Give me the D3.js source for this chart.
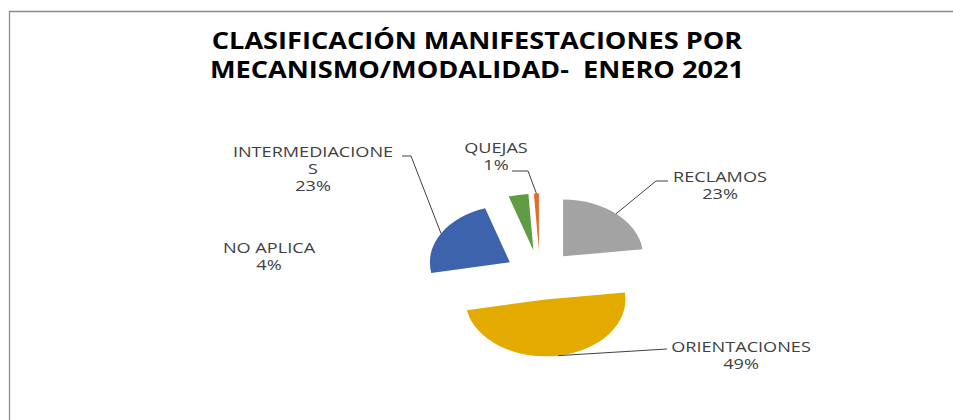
<!DOCTYPE html>
<html>
<head>
<meta charset="utf-8">
<script src="https://cdn.jsdelivr.net/npm/d3@7"></script>
<style>
  body { margin: 0; background: #fff; }
  svg { display: block; }
  text { white-space: pre; }
</style>
</head>
<body>
<svg id="chart" width="953" height="420"></svg>
<script>
const titleLines = ["CLASIFICACIÓN MANIFESTACIONES POR", "MECANISMO/MODALIDAD-  ENERO 2021"];
const categories = ["RECLAMOS", "ORIENTACIONES", "INTERMEDIACIONES", "NO APLICA", "QUEJAS"];
const values = [23, 49, 23, 4, 1];
const colors = ["#a3a3a3", "#e3ab00", "#3c63ab", "#5f9c44", "#e36c26"];

// label layout: text lines, text centre, leader elbow and end
const labelLayout = {
    "RECLAMOS":         { lines: ["RECLAMOS", "23%"], x: 720, y: 182, leader: [[656, 181], [668, 181]] },
    "ORIENTACIONES":    { lines: ["ORIENTACIONES", "49%"], x: 741, y: 352, leader: [[667, 349]] },
    "INTERMEDIACIONES": { lines: ["INTERMEDIACIONE", "S", "23%"], x: 313, y: 157, leader: [[411, 156], [402, 156]] },
    "NO APLICA":        { lines: ["NO APLICA", "4%"], x: 269, y: 253, leader: null },
    "QUEJAS":           { lines: ["QUEJAS", "1%"], x: 496, y: 153, leader: [[528, 171], [512, 171]] }
};

const cx = 540, cy = 275, rx = 80, tilt = 0.71, explode = 35;
// the reference text is drawn wide, so stretch glyphs horizontally
const titleStretch = 1.18, labelStretch = 1.25;

const svg = d3.select("#chart");

// chart area border (runs off the right and bottom)
svg.append("path")
    .attr("d", "M9.5,420 V11.5 H953")
    .attr("fill", "none")
    .attr("stroke", "#8a8a8a")
    .attr("stroke-width", 1.3);

svg.append("text")
    .attr("transform", `translate(477,0) scale(${titleStretch},1)`)
    .attr("text-anchor", "middle")
    .style("font-family", "'Open Sans', Lato, sans-serif")
    .style("font-weight", "bold")
    .style("font-size", "23px")
    .attr("fill", "#000")
    .selectAll("tspan")
    .data(titleLines)
    .enter().append("tspan")
    .attr("x", 0)
    .attr("y", (d, i) => 49 + i * 29)
    .text(d => d);

const pie = d3.pie().sort(null).value(d => d);
const arcs = pie(values);
const arc = d3.arc().innerRadius(0).outerRadius(rx);

const mid = d => (d.startAngle + d.endAngle) / 2;
const offset = d => [explode * Math.sin(mid(d)), -explode * Math.cos(mid(d))];

// flattened pie: draw in circle space, squash vertically
const pieG = svg.append("g")
    .attr("transform", `translate(${cx},${cy}) scale(1,${tilt})`);

pieG.selectAll("path")
    .data(arcs)
    .enter().append("path")
    .attr("transform", d => `translate(${offset(d)[0]},${offset(d)[1]})`)
    .attr("d", arc)
    .attr("fill", (d, i) => colors[i]);

// point on the outer edge at the slice's middle, in page coords
function edgePoint(d) {
    const o = offset(d);
    const a = mid(d);
    return [cx + o[0] + rx * Math.sin(a), cy + (o[1] - rx * Math.cos(a)) * tilt];
}

const labelG = svg.append("g");

arcs.forEach((d, i) => {
    const lay = labelLayout[categories[i]];
    if (lay.leader) {
        const pts = [edgePoint(d)].concat(lay.leader);
        labelG.append("path")
            .attr("d", d3.line()(pts))
            .attr("fill", "none")
            .attr("stroke", "#404040")
            .attr("stroke-width", 1);
    }
    labelG.append("text")
        .attr("transform", `translate(${lay.x},${lay.y}) scale(${labelStretch},1)`)
        .attr("text-anchor", "middle")
        .style("font-family", "'Open Sans', Lato, sans-serif")
        .style("font-size", "14.5px")
        .attr("fill", "#404040")
        .selectAll("tspan")
        .data(lay.lines)
        .enter().append("tspan")
        .attr("x", 0)
        .attr("y", (t, j) => j * 17)
        .text(t => t);
});
</script>
</body>
</html>
